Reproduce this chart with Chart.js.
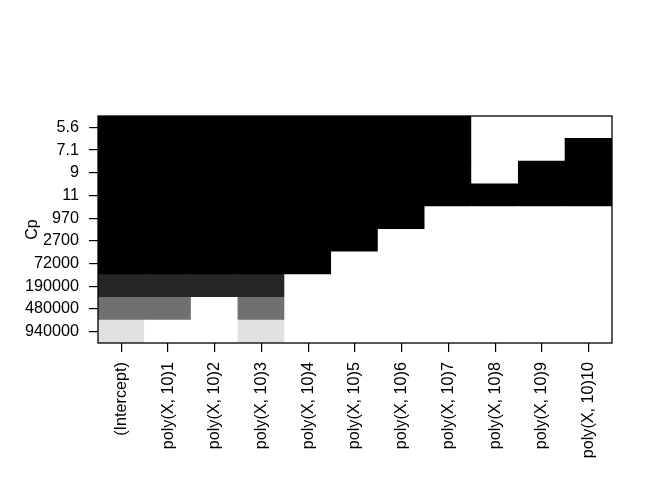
<!DOCTYPE html>
<html>
<head>
<meta charset="utf-8">
<script src="https://cdn.jsdelivr.net/npm/chart.js@4"></script>
<style>
  body { margin: 0; background: #fff; }
  #wrap { width: 672px; height: 480px; }
</style>
</head>
<body>
<div id="wrap"><canvas id="graph"></canvas></div>
<script>
// variables (columns) and Cp of each model (rows, top to bottom)
const variables = ['(Intercept)', 'poly(X, 10)1', 'poly(X, 10)2', 'poly(X, 10)3', 'poly(X, 10)4',
  'poly(X, 10)5', 'poly(X, 10)6', 'poly(X, 10)7', 'poly(X, 10)8', 'poly(X, 10)9', 'poly(X, 10)10']
const cpLabels = ['5.6', '7.1', '9', '11', '970', '2700', '72000', '190000', '480000', '940000']

// 1 = variable in the model
const included = [
  [1,1,1,1,1,1,1,1,0,0,0],
  [1,1,1,1,1,1,1,1,0,0,1],
  [1,1,1,1,1,1,1,1,0,1,1],
  [1,1,1,1,1,1,1,1,1,1,1],
  [1,1,1,1,1,1,1,0,0,0,0],
  [1,1,1,1,1,1,0,0,0,0,0],
  [1,1,1,1,1,0,0,0,0,0,0],
  [1,1,1,1,0,0,0,0,0,0,0],
  [1,1,0,1,0,0,0,0,0,0,0],
  [1,0,0,1,0,0,0,0,0,0,0]
]

// grey shade of each row
const rowShade = ['#000000', '#000000', '#000000', '#000000', '#000000', '#000000', '#000000',
  '#262626', '#707070', '#e0e0e0']

const fontFam = '"Liberation Sans", Arial, Helvetica, sans-serif'

// one stacked dataset per row, bottom row first
let datasets = []
for (let r = cpLabels.length - 1; r >= 0; r--) {
  datasets.push({
    label: cpLabels[r],
    data: variables.map(() => 1),
    backgroundColor: included[r].map(v => v ? rowShade[r] : '#ffffff'),
    borderWidth: 0,
    inflateAmount: 0.6,
    barPercentage: 1,
    categoryPercentage: 1
  })
}

const frame = {
  id: 'frame',
  afterDraw(chart) {
    const a = chart.chartArea
    const c = chart.ctx
    c.save()
    c.strokeStyle = '#000'
    c.lineWidth = 1.3
    c.strokeRect(a.left, a.top, a.right - a.left, a.bottom - a.top)
    c.restore()
  }
}

const ctx = document.getElementById('graph').getContext('2d')
const chart = new Chart(ctx, {
  type: 'bar',
  data: { labels: variables, datasets: datasets },
  plugins: [frame],
  options: {
    responsive: true,
    maintainAspectRatio: false,
    animation: false,
    layout: { padding: { left: 0, right: 60, top: 116, bottom: 0 } },
    plugins: { legend: { display: false }, tooltip: { enabled: false } },
    scales: {
      x: {
        stacked: true,
        afterFit: s => { s.height = 137 },
        grid: { offset: false, drawOnChartArea: false, tickLength: 9, color: '#000', lineWidth: 1.2 },
        border: { display: false },
        ticks: {
          color: '#000', padding: 10, minRotation: 90, maxRotation: 90, autoSkip: false,
          font: { family: fontFam, size: 16.2 }
        }
      },
      y: {
        stacked: true,
        min: 0,
        max: 10,
        afterFit: s => { s.width = 98 },
        afterBuildTicks: s => {
          s.ticks = cpLabels.map((_, i) => ({ value: i + 0.5 }))
        },
        grid: { drawOnChartArea: false, tickLength: 9, color: '#000', lineWidth: 1.2 },
        border: { display: false },
        title: {
          display: true, text: 'Cp', color: '#000', padding: { top: 23, bottom: 0 },
          font: { family: fontFam, size: 16.2 }
        },
        ticks: {
          color: '#000', padding: 10, autoSkip: false,
          font: { family: fontFam, size: 16.2 },
          callback: v => cpLabels[cpLabels.length - 1 - Math.floor(v)]
        }
      }
    }
  }
})
</script>
</body>
</html>
